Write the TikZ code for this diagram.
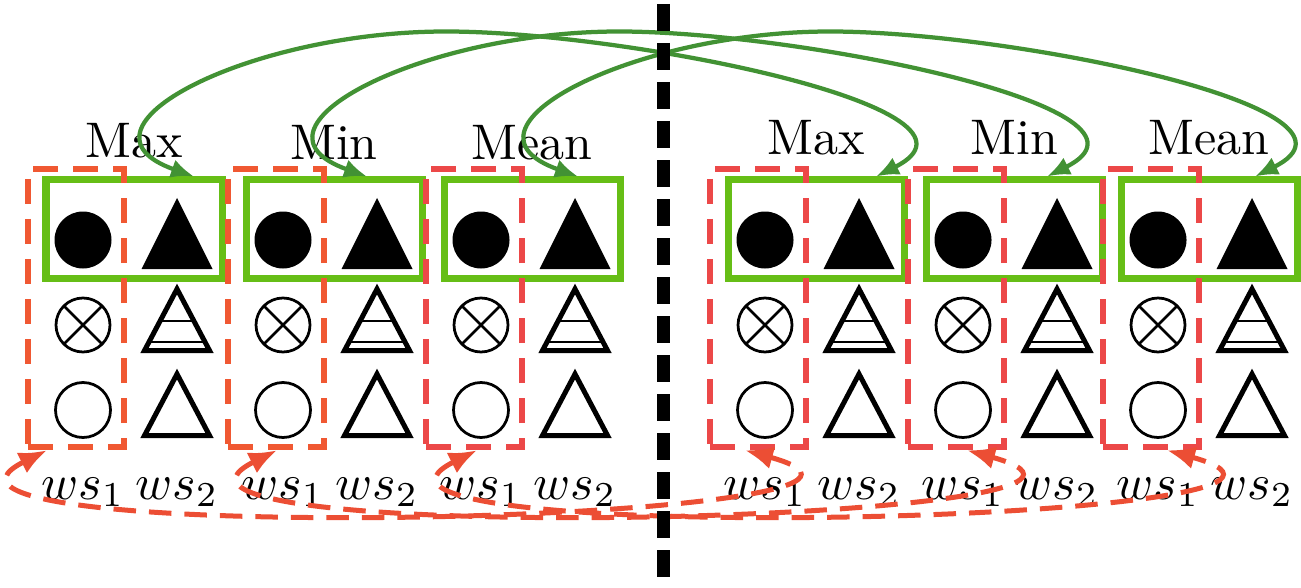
\documentclass[tikz,border=0pt]{standalone}
\usepackage{amsmath}
\usepackage{tikz}
\usetikzlibrary{calc,arrows.meta,positioning}

\definecolor{boxgreen}{RGB}{102,190,22}
\definecolor{linkgreen}{RGB}{66,146,52}
\definecolor{swapred}{RGB}{236,78,52}
\definecolor{boxred}{RGB}{236,72,72}
\definecolor{boxorange}{RGB}{240,88,50}

\tikzset{
  bestbox/.style={draw=boxgreen, line width=1.4pt, minimum width=35.2pt,
    minimum height=19.6pt, inner sep=0pt},
  wsbox/.style={line width=1.3pt, dash pattern=on 5pt off 3pt,
    minimum width=19.2pt, minimum height=55.6pt, inner sep=0pt},
  linkarrow/.style={linkgreen, line width=0.85pt, <->,
    >={Latex[length=4.6pt,width=3.8pt]}},
  swaparrow/.style={swapred, line width=1pt, dash pattern=on 4.5pt off 2.6pt,
    <->, >={Latex[length=5.6pt,width=4.6pt]}},
  divider/.style={line width=2.6pt, dash pattern=on 5.4pt off 2.4pt},
  hollow/.style={line width=1pt, line join=miter},
}

\begin{document}
\begin{tikzpicture}[x=0.2pt,y=0.2pt]
  \useasboundingbox (0,0) rectangle (1301,587);
  % one block per operator: circle column (ws_1) and triangle column (ws_2)
  \foreach \cx/\lab/\ly/\col [count=\i] in {83/Max/430/boxorange,
      283/Min/427/boxorange, 481/Mean/427/boxred, 765/Max/432/boxred,
      963/Min/432/boxred, 1158/Mean/432/boxred} {
    \pgfmathsetmacro{\tx}{\cx+94}
    % top row
    \fill (\cx,347) circle (28.5);
    \fill (\tx-35.5,318) -- (\tx+35.5,318) -- (\tx,389) -- cycle;
    % middle row
    \draw[line width=0.55pt] (\cx,262) circle (27);
    \draw[line width=0.55pt] (\cx,262) ++(45:27) -- ++(225:54);
    \draw[line width=0.55pt] (\cx,262) ++(135:27) -- ++(-45:54);
    \draw[hollow] (\tx-32.5,236.5) -- (\tx+32.5,236.5) -- (\tx,298) -- cycle;
    \draw[line width=0.5pt] (\tx-16.9,266) -- (\tx+16.9,266);
    \draw[line width=0.5pt] (\tx-28,245) -- (\tx+28,245);
    % bottom row
    \draw[line width=0.55pt] (\cx,177) circle (27.5);
    \draw[hollow] (\tx-32.5,151.5) -- (\tx+32.5,151.5) -- (\tx,213) -- cycle;
    % boxes and labels
    \node[bestbox] (g\i) at (\cx+51,358) {};
    \node[wsbox, draw=\col] (r\i) at (\cx-7,279) {};
    \node[anchor=base] (op\i) at (\cx+51,\ly) {\lab};
    \node[anchor=base] (wa\i) at (\cx,88) {$ws_1$};
    \node[anchor=base] (wb\i) at (\tx,88) {$ws_2$};
  }
  % exchange of the best pairs
  \foreach \a/\b/\d in {1/4/12pt, 2/5/6.6pt, 3/6/9.2pt} {
    \coordinate (gs\a) at ([xshift=\d]g\a.north);
    \coordinate (ge\a) at ([xshift=\d]g\b.north);
    \coordinate (gp\a) at ($(gs\a)+(252,145)$);
    \draw[linkarrow] (gs\a) .. controls +(-135,48) and +(-197,0) .. (gp\a)
      .. controls +(180,0) and +(136,68) .. (ge\a);
  }
  % exchange of the ws_1 columns
  \foreach \a/\b/\da/\db in {1/4/-5.8pt/-2.6pt, 2/5/0.2pt/2.2pt, 3/6/0.6pt/3.2pt} {
    \coordinate (rs\a) at ([xshift=\da]r\a.south);
    \coordinate (re\a) at ([xshift=\db]r\b.south);
    \draw[swaparrow] (rs\a) .. controls +(-200,-100) and +(260,-72) .. (re\a);
  }
  % split between the two parents
  \coordinate (divtop) at (663,583);
  \coordinate (divbot) at (663,-5);
  \draw[divider] (divtop) -- (divbot);
\end{tikzpicture}
\end{document}
